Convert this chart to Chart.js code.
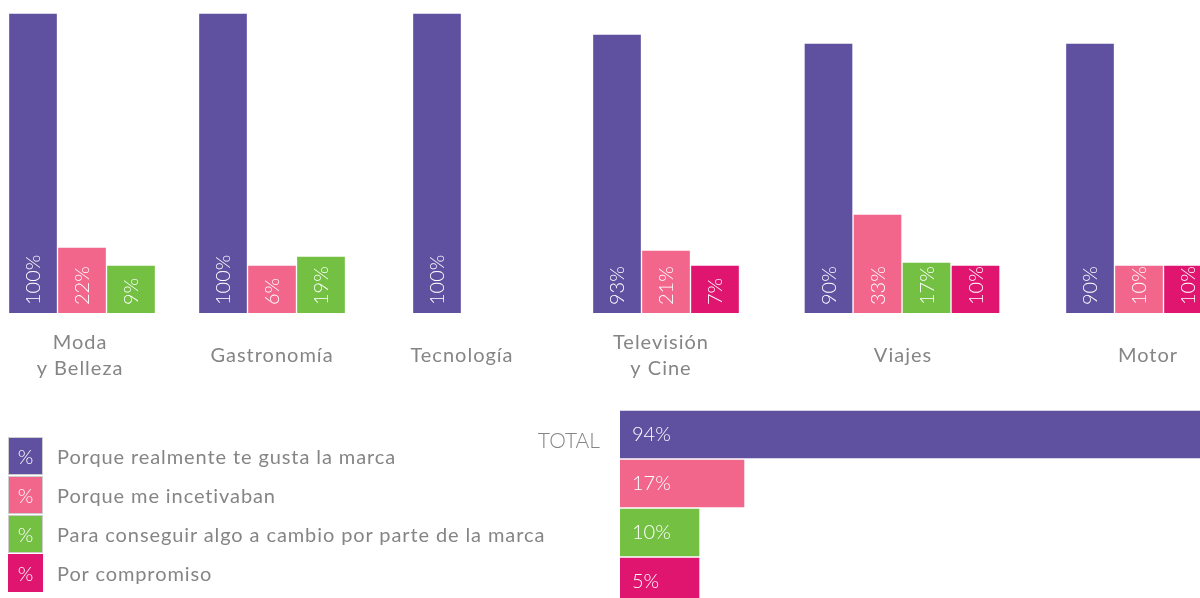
<!DOCTYPE html>
<html lang="es">
<head>
<meta charset="utf-8">
<title>Motivos por categoría</title>
<script src="https://cdn.jsdelivr.net/npm/chart.js@4.4.1/dist/chart.umd.min.js"></script>
<style>
  html, body { margin: 0; padding: 0; background: #fff; overflow: hidden; }
  body { width: 1200px; height: 598px; position: relative; font-family: Lato, "Noto Sans", sans-serif; }
  .mini { position: absolute; top: 0; }
  #total { position: absolute; left: 520px; top: 400px; }
  #leyenda { position: absolute; left: 8px; top: 436px; }
  .item { display: flex; align-items: center; height: 39px; }
  .caja { width: 35px; height: 38px; box-sizing: border-box; border: 1px solid #cdcdcd;
          color: #fff; font-size: 20px; font-weight: 300; display: flex; align-items: center; justify-content: center; }
  .txt { margin-left: 14px; color: #858585; font-size: 20px; font-weight: 400; letter-spacing: 0.9px; }
</style>
</head>
<body>
<div id="graficos"></div>
<canvas id="total" width="835" height="216"></canvas>
<div id="leyenda"></div>

<script>
// datos
const categorias = [["Moda", "y Belleza"], ["Gastronomía"], ["Tecnología"], ["Televisión", "y Cine"], ["Viajes"], ["Motor"]];
const series = [
  "Porque realmente te gusta la marca",
  "Porque me incetivaban",
  "Para conseguir algo a cambio por parte de la marca",
  "Por compromiso"
];
const gustaMarca = [100, 100, 100, 93, 90, 90];
const incentivo  = [22, 6, null, 21, 33, 10];
const aCambio    = [9, 19, null, null, 17, null];
const compromiso = [null, null, null, 7, 10, 10];
const totalCategoria = ["TOTAL"];
const totalValores = [94, 17, 10, 5];

const colores = ["#6050a0", "#f2668b", "#74c043", "#e01570"];
const valoresSerie = [gustaMarca, incentivo, aCambio, compromiso];

// maqueta: centro de cada grupo de barras y ajuste del texto de categoria
const centros = [82, 272, 437, 666, 902, 1139];
const ajusteTexto = [-2, 0, 25, -5, 1, 9];

const fuente = 'Lato, "Noto Sans", sans-serif';

const etiquetasBarras = {
  id: "etiquetasBarras",
  afterDatasetsDraw(chart, args, opts) {
    const ctx = chart.ctx;
    ctx.save();
    ctx.fillStyle = "#fff";
    ctx.font = "300 20px " + fuente;
    chart.data.datasets.forEach((ds, d) => {
      chart.getDatasetMeta(d).data.forEach((bar, j) => {
        const v = ds.data[j];
        if (v == null) return;
        const txt = v + "%";
        ctx.textAlign = "left";
        ctx.textBaseline = "middle";
        if (opts.horizontal) {
          ctx.fillText(txt, bar.base + 12, bar.y);
        } else {
          ctx.save();
          ctx.translate(bar.x, bar.base - 8);
          ctx.rotate(-Math.PI / 2);
          ctx.fillText(txt, 0, 1);
          ctx.restore();
        }
      });
    });
    ctx.restore();
  }
};

const etiquetaCategoria = {
  id: "etiquetaCategoria",
  afterDraw(chart, args, opts) {
    const ctx = chart.ctx;
    const lineas = chart.data.labels[0];
    const area = chart.chartArea;
    const x = (area.left + area.right) / 2 + (opts.dx || 0);
    let y = area.bottom + 43 - (lineas.length - 1) * 13;
    ctx.save();
    ctx.fillStyle = "#858585";
    ctx.font = "400 20px " + fuente;
    ctx.letterSpacing = "1px";
    ctx.textAlign = "center";
    ctx.textBaseline = "middle";
    lineas.forEach((l) => {
      ctx.fillText(l, x, y);
      y += 26;
    });
    ctx.restore();
  }
};

const etiquetaTotal = {
  id: "etiquetaTotal",
  afterDraw(chart) {
    const ctx = chart.ctx;
    const primera = chart.getDatasetMeta(0).data[0];
    ctx.save();
    ctx.fillStyle = "#858585";
    ctx.font = "300 21px " + fuente;
    ctx.textAlign = "right";
    ctx.textBaseline = "middle";
    ctx.fillText(chart.data.labels[0], chart.chartArea.left - 20, primera.y + 7);
    ctx.restore();
  }
};

// un grafico pequeño por categoria
const cont = document.getElementById("graficos");
categorias.forEach((cat, i) => {
  const c = document.createElement("canvas");
  c.className = "mini";
  c.width = 260;
  c.height = 400;
  c.style.left = (centros[i] - 130) + "px";
  cont.appendChild(c);

  new Chart(c, {
    type: "bar",
    data: {
      labels: [cat],
      datasets: valoresSerie.map((arr, s) => ({
        label: series[s],
        data: [arr[i]],
        backgroundColor: colores[s],
        borderColor: "#ffffff",
        borderWidth: 1,
        barThickness: 49,
        minBarLength: 48,
        skipNull: true
      }))
    },
    options: {
      responsive: false,
      animation: false,
      layout: { padding: { top: 13, bottom: 87 } },
      plugins: {
        legend: { display: false },
        tooltip: { enabled: false },
        etiquetaCategoria: { dx: ajusteTexto[i] }
      },
      scales: {
        x: { display: false },
        y: { display: false, min: 0, max: 100 }
      }
    },
    plugins: [etiquetasBarras, etiquetaCategoria]
  });
});

// total
new Chart(document.getElementById("total"), {
  type: "bar",
  data: {
    labels: totalCategoria,
    datasets: totalValores.map((v, s) => ({
      label: series[s],
      data: [v],
      backgroundColor: colores[s],
      borderColor: "#ffffff",
      borderWidth: 1,
      barThickness: 49,
      minBarLength: 80
    }))
  },
  options: {
    indexAxis: "y",
    responsive: false,
    animation: false,
    layout: { padding: { left: 100 } },
    plugins: {
      legend: { display: false },
      tooltip: { enabled: false },
      etiquetasBarras: { horizontal: true }
    },
    scales: {
      x: { display: false, min: 0, max: 100 },
      y: { display: false }
    }
  },
  plugins: [etiquetasBarras, etiquetaTotal]
});

// leyenda
const ley = document.getElementById("leyenda");
series.forEach((nombre, s) => {
  const item = document.createElement("div");
  item.className = "item";
  const caja = document.createElement("div");
  caja.className = "caja";
  caja.style.background = colores[s];
  if (s === 3) caja.style.borderColor = colores[s];
  caja.textContent = "%";
  const txt = document.createElement("span");
  txt.className = "txt";
  txt.textContent = nombre;
  item.appendChild(caja);
  item.appendChild(txt);
  ley.appendChild(item);
});
</script>
</body>
</html>
